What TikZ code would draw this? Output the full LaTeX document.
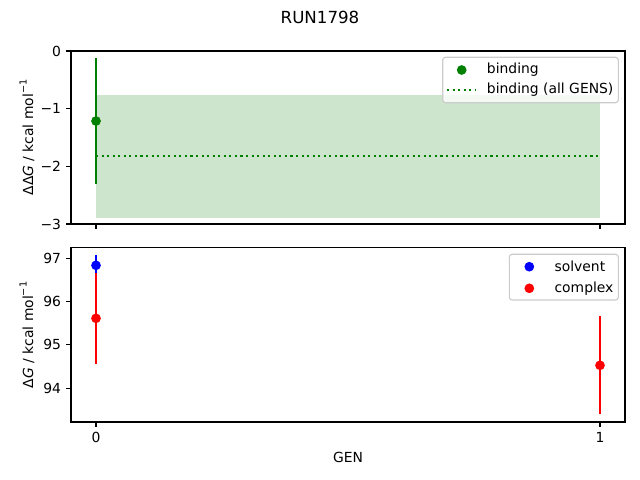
\documentclass[tikz,border=0pt]{standalone}
\usepackage{fontspec}
\setmainfont{DejaVu Sans}
\usepackage{tikz}

\definecolor{mplgreen}{RGB}{0,128,0}
\definecolor{mplblue}{RGB}{0,0,255}
\definecolor{mplred}{RGB}{255,0,0}
\definecolor{legendedge}{RGB}{204,204,204}

\tikzset{
    frame/.style={line width=0.8pt},
    tickmark/.style={line width=0.8pt},
    ticklabel/.style={inner sep=0pt, font=\fontsize{10}{12}\selectfont},
    errbar/.style={line width=1.5pt},
    legendbox/.style={draw=legendedge, line width=0.8pt, fill=white, fill opacity=0.8, rounded corners=2pt},
    legendtext/.style={inner sep=0pt, anchor=west, font=\fontsize{10}{12}\selectfont}
}

\begin{document}
\begin{tikzpicture}[x=0.72pt, y=-0.72pt]
    \useasboundingbox[fill=white] (0,0) rectangle (640,480);

    \node[inner sep=0pt, font=\fontsize{12}{14}\selectfont] (title) at (320,17) {RUN1798};

    % top panel: binding
    \fill[mplgreen!20] (96,95) rectangle (600,217.7);
    \draw[mplgreen, line width=1.5pt, dash pattern=on 1.5pt off 2.5pt] (96,156) -- (600,156);
    \draw[mplgreen, errbar] (96,58.3) -- (96,184);
    \fill[mplgreen] (96,121) circle (3.5pt);

    \draw[frame] (71,51) rectangle (625,224);
    \draw[tickmark] (71,51) -- (66.1,51);
    \draw[tickmark] (71,108.7) -- (66.1,108.7);
    \draw[tickmark] (71,166.3) -- (66.1,166.3);
    \draw[tickmark] (71,224) -- (66.1,224);
    \draw[tickmark] (96,224) -- (96,228.9);
    \draw[tickmark] (600,224) -- (600,228.9);
    \node[ticklabel, anchor=east] (ytop0) at (61.3,51) {0};
    \node[ticklabel, anchor=east] (ytop1) at (61.3,108.7) {−1};
    \node[ticklabel, anchor=east] (ytop2) at (61.3,166.3) {−2};
    \node[ticklabel, anchor=east] (ytop3) at (61.3,224) {−3};
    \node[ticklabel, rotate=90] (ylabeltop) at (27,137.5) {ΔΔ\textit{G} / kcal mol\raisebox{0.85ex}{\fontsize{7}{8}\selectfont −1}};

    % top legend
    \draw[legendbox] (442.7,57.3) rectangle (618.3,102.7);
    \fill[mplgreen] (461.7,70) circle (3.5pt);
    \draw[mplgreen, line width=1.5pt, dash pattern=on 1.5pt off 2.5pt] (447,90) -- (475,90);
    \node[legendtext] (legbinding) at (486.7,70) {binding};
    \node[legendtext] (legall) at (486.7,90) {binding (all GENS)};

    % bottom panel: solvent and complex
    \draw[mplblue, errbar] (96,254.9) -- (96,275.7);
    \draw[mplred, errbar] (96,272.8) -- (96,363.8);
    \draw[mplred, errbar] (600,316) -- (600,413.7);
    \fill[mplblue] (96,265.3) circle (3.5pt);
    \fill[mplred] (96,318.3) circle (3.5pt);
    \fill[mplred] (600,365.3) circle (3.5pt);

    \draw[frame] (71,247.7) rectangle (625,422);
    \draw[tickmark] (71,258.3) -- (66.1,258.3);
    \draw[tickmark] (71,301.6) -- (66.1,301.6);
    \draw[tickmark] (71,344.9) -- (66.1,344.9);
    \draw[tickmark] (71,388.2) -- (66.1,388.2);
    \draw[tickmark] (96,422) -- (96,426.9);
    \draw[tickmark] (600,422) -- (600,426.9);
    \node[ticklabel, anchor=east] (ybot97) at (61.3,258.3) {97};
    \node[ticklabel, anchor=east] (ybot96) at (61.3,301.6) {96};
    \node[ticklabel, anchor=east] (ybot95) at (61.3,344.9) {95};
    \node[ticklabel, anchor=east] (ybot94) at (61.3,388.2) {94};
    \node[ticklabel, anchor=north] (xbot0) at (96,431.8) {0};
    \node[ticklabel, anchor=north] (xbot1) at (600,431.8) {1};
    \node[ticklabel] (xlabel) at (348,457) {GEN};
    \node[ticklabel, rotate=90] (ylabelbot) at (27,334.9) {Δ\textit{G} / kcal mol\raisebox{0.85ex}{\fontsize{7}{8}\selectfont −1}};

    % bottom legend
    \draw[legendbox] (509.3,254.3) rectangle (618.3,300);
    \fill[mplblue] (529.3,266.7) circle (3.5pt);
    \fill[mplred] (529.3,288.3) circle (3.5pt);
    \node[legendtext] (legsolvent) at (554.3,266.7) {solvent};
    \node[legendtext] (legcomplex) at (554.3,288.3) {complex};
\end{tikzpicture}
\end{document}
